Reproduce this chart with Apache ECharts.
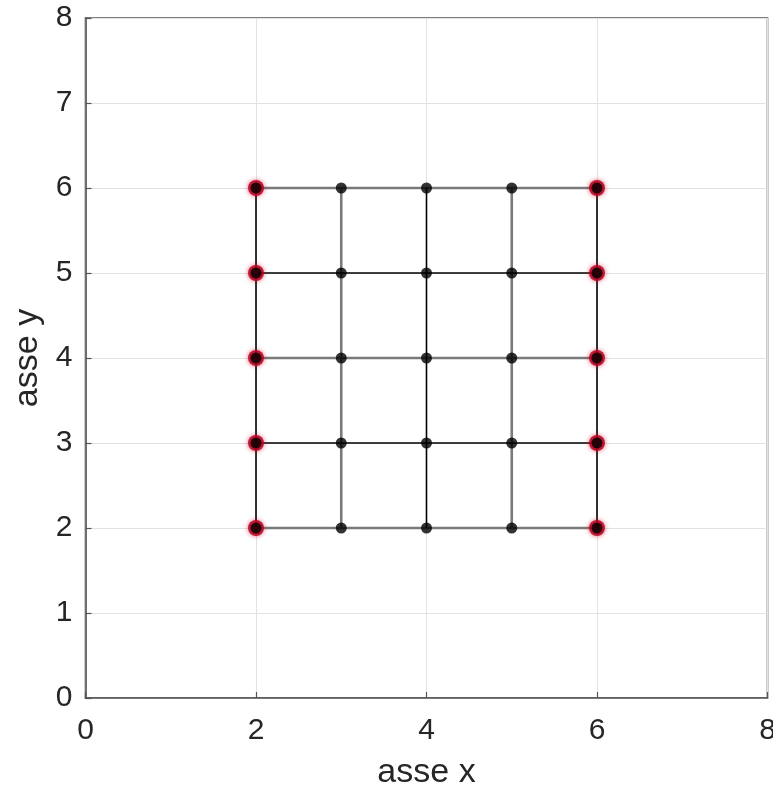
<!DOCTYPE html>
<html>
<head>
<meta charset="utf-8">
<script src="https://cdn.jsdelivr.net/npm/echarts@6/dist/echarts.min.js"></script>
<style>
html, body { margin: 0; padding: 0; background: #fff; }
#chart { width: 773px; height: 789px; }
</style>
</head>
<body>
<div id="chart"></div>
<script>
// Mesh node coordinates
const xNodes = [2, 3, 4, 5, 6];
const yNodes = [2, 3, 4, 5, 6];
// Columns whose nodes are constrained (highlighted in red)
const fixedColumns = [2, 6];
// Axis tick spacing
const xTickStep = 2;
const yTickStep = 1;

const FONT = 'Liberation Sans, Arial, sans-serif';
const TEXT = '#262626';
const AXIS = '#555555';
const GRAY_LINE = '#7a7a7a';
const BLACK_LINE = '#000000';

const series = [];

// Horizontal mesh lines
yNodes.forEach((y, i) => {
  const gray = i % 2 === 0;
  series.push({
    type: 'line',
    data: xNodes.map(x => [x, y]),
    symbol: 'none',
    lineStyle: { color: gray ? GRAY_LINE : BLACK_LINE, width: gray ? 2.6 : 1.6 },
    z: gray ? 2 : 3,
    silent: true
  });
});

// Vertical mesh lines
xNodes.forEach((x, i) => {
  const gray = i % 2 === 1;
  series.push({
    type: 'line',
    data: yNodes.map(y => [x, y]),
    symbol: 'none',
    lineStyle: { color: gray ? GRAY_LINE : BLACK_LINE, width: gray ? 2.6 : 1.6 },
    z: gray ? 2 : 3,
    silent: true
  });
});

// Constrained nodes: red halo
const fixedNodes = [];
fixedColumns.forEach(x => yNodes.forEach(y => fixedNodes.push([x, y])));
series.push({
  type: 'scatter',
  data: fixedNodes,
  symbol: 'circle',
  symbolSize: 16,
  itemStyle: { color: '#b8001e', opacity: 0.85, shadowBlur: 5, shadowColor: 'rgba(210,0,40,0.7)' },
  z: 5,
  silent: true
});

// All nodes
const allNodes = [];
xNodes.forEach(x => yNodes.forEach(y => allNodes.push([x, y])));
series.push({
  type: 'scatter',
  data: allNodes,
  symbol: 'circle',
  symbolSize: 11,
  itemStyle: { color: '#000' },
  z: 6,
  silent: true
});

function axis(name, nameGap, step, labelMargin) {
  return {
    type: 'value',
    min: 0,
    max: 8,
    interval: step,
    name: name,
    nameLocation: 'middle',
    nameGap: nameGap,
    nameTextStyle: { color: TEXT, fontSize: 34, fontFamily: FONT },
    axisLine: { show: true, onZero: false, lineStyle: { color: AXIS, width: 1.6 } },
    axisTick: { show: true, inside: true, length: 6, lineStyle: { color: AXIS, width: 1.2 } },
    splitLine: { show: true, lineStyle: { color: '#e2e2e2', width: 1 } },
    axisLabel: { color: TEXT, fontSize: 30, fontFamily: FONT, margin: labelMargin }
  };
}

const chart = echarts.init(document.getElementById('chart'), null, { renderer: 'canvas' });
chart.setOption({
  animation: false,
  backgroundColor: '#fff',
  grid: {
    left: 85.5, right: 5.5, top: 18, bottom: 91,
    outerBoundsMode: 'none',
    containLabel: false,
    show: true, borderColor: AXIS, borderWidth: 1.6, backgroundColor: 'transparent'
  },
  xAxis: axis('asse x', 58, xTickStep, 18),
  yAxis: axis('asse y', 40, yTickStep, 13),
  series: series
});
</script>
</body>
</html>
